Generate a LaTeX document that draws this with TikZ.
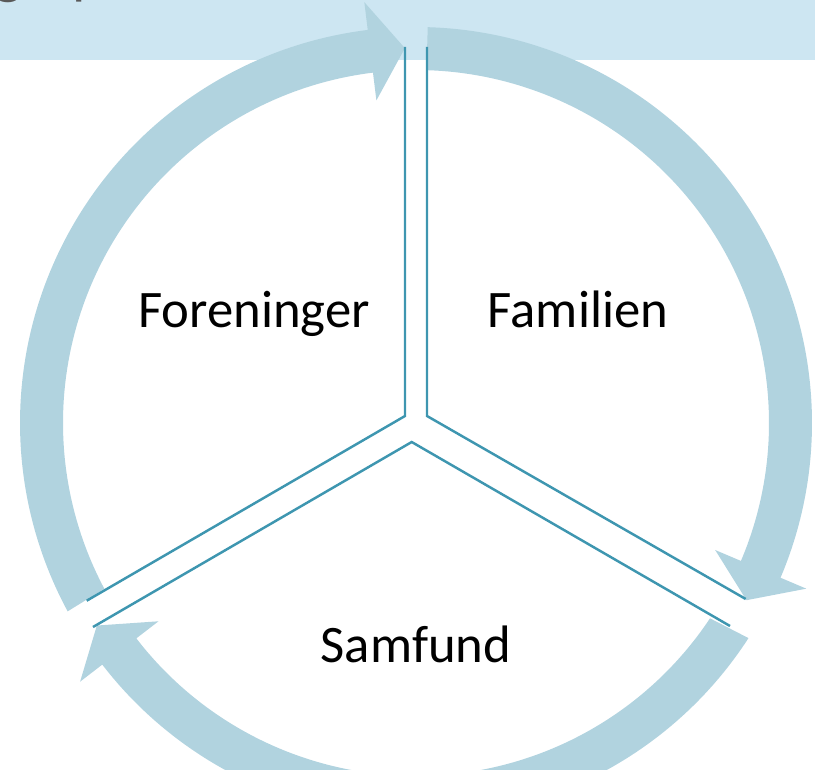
\documentclass[tikz,border=0pt]{standalone}
\usepackage{fontspec}
\setmainfont{Carlito}
\usetikzlibrary{calc}
\definecolor{bandblue}{RGB}{205,230,242}
\definecolor{arrowblue}{RGB}{177,211,223}
\definecolor{edgeteal}{RGB}{62,150,176}
\definecolor{titlegray}{RGB}{89,89,89}
\begin{document}
\begin{tikzpicture}[x=0.02cm,y=-0.02cm,
    ring/.style={fill=arrowblue},
    edge/.style={draw=edgeteal,line width=1.4pt,line join=miter},
    sectorname/.style={font=\fontsize{30}{36}\selectfont,anchor=base,inner sep=0pt}]
            \useasboundingbox (0,0) rectangle (815,770);
            \fill[bandblue] (0,0) rectangle (815,60.5);
            \node[titlegray,anchor=base west,inner sep=0pt,font=\fontsize{34}{40}\selectfont] (title) at (-6,-7.5) {g\hspace{1.0cm}p};
            \coordinate (C) at (416,423);
            % the three arrows round the ring
            \fill[ring] ($(C)+(151.6:396)$) arc[start angle=151.6,end angle=263,radius=396]
                -- ($(C)+(263:424)$) -- ($(C)+(268.3:375)$) -- ($(C)+(263:325)$)
                -- ($(C)+(263:353)$) arc[start angle=263,end angle=152,radius=353] -- cycle;
            \fill[ring] ($(C)+(271.7:396)$) arc[start angle=271.7,end angle=383,radius=396]
                -- ($(C)+(383:424)$) -- ($(C)+(388.2:375)$) -- ($(C)+(383:325)$)
                -- ($(C)+(383:353)$) arc[start angle=383,end angle=271.7,radius=353] -- cycle;
            \fill[ring] ($(C)+(32.9:396)$) arc[start angle=32.9,end angle=142.4,radius=396]
                -- ($(C)+(142.4:424)$) -- ($(C)+(147.6:378)$) -- ($(C)+(142.4:325)$)
                -- ($(C)+(142.4:353)$) arc[start angle=142.4,end angle=33.6,radius=353] -- cycle;
            % sector edges
            \coordinate (forTop) at (405,47);
            \coordinate (forApex) at (405,416);
            \coordinate (forEnd) at (86.7,600.7);
            \coordinate (famTop) at (427,47);
            \coordinate (famApex) at (427,416);
            \coordinate (famEnd) at (745.7,599);
            \coordinate (samLeft) at (93,627);
            \coordinate (samApex) at (411.7,442);
            \coordinate (samRight) at (730,626);
            \draw[edge] (forTop) -- (forApex) -- (forEnd);
            \draw[edge] (famTop) -- (famApex) -- (famEnd);
            \draw[edge] (samLeft) -- (samApex) -- (samRight);
            \node[sectorname] (foreninger) at (254,328) {Foreninger};
            \node[sectorname] (familien) at (578,328) {Familien};
            \node[sectorname] (samfund) at (416,662) {Samfund};
            \end{tikzpicture}
\end{document}
